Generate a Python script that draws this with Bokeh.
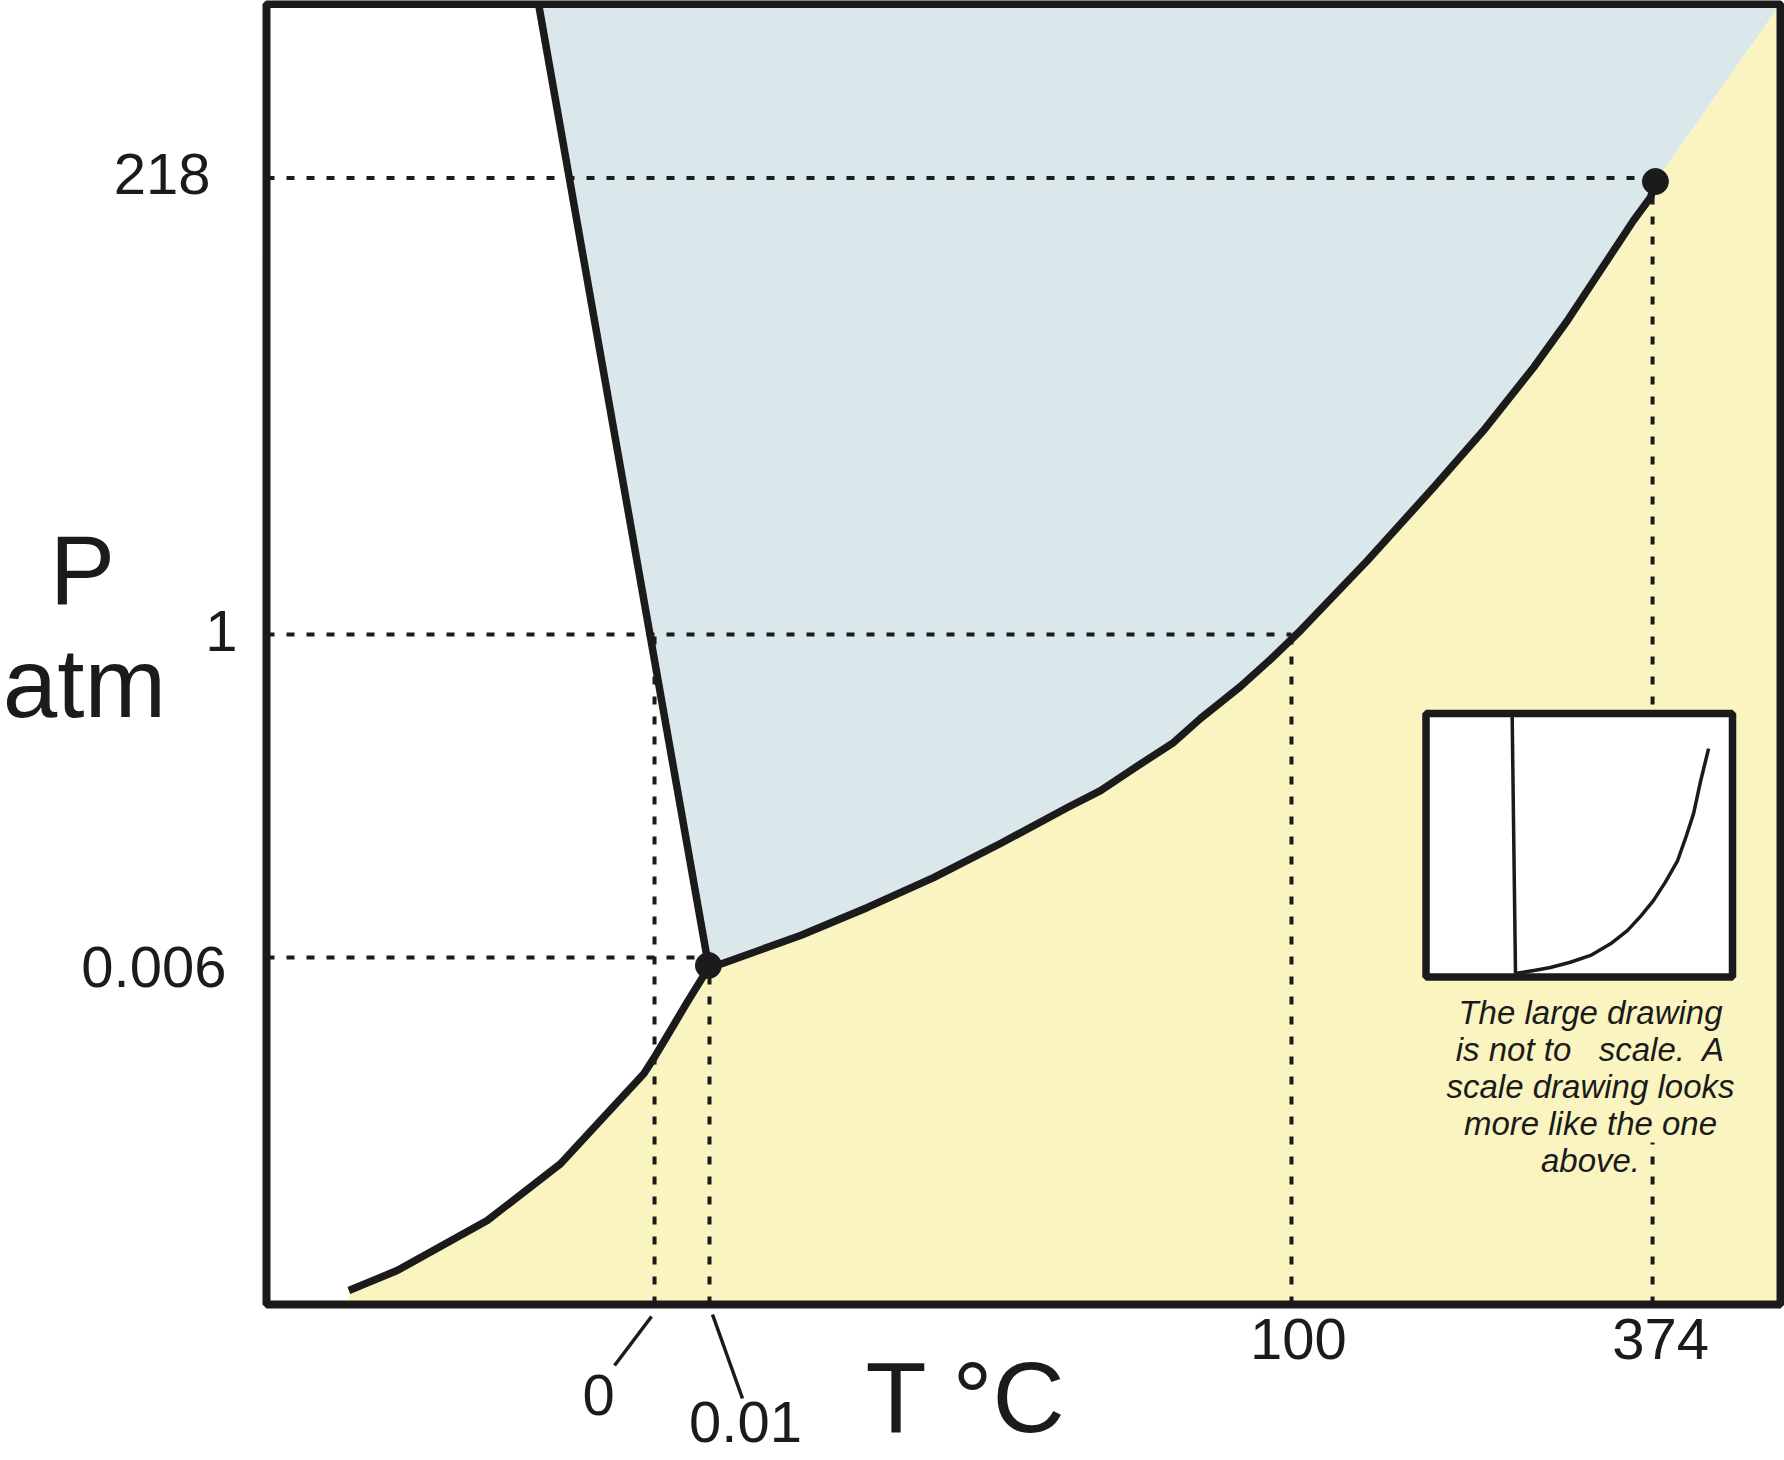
import numpy as np
from bokeh.plotting import figure
from bokeh.models import Range1d
from bokeh.core.properties import value
from bokeh.embed import file_html
from bokeh.resources import INLINE

# ------------------------------------------------------------------
# DATA  (schematic units: the framed box spans 0..100 on both axes;
#        the large drawing is "not to scale")
# ------------------------------------------------------------------
# solid-liquid (melting) line: top of frame -> triple point
melt_T = [17.97, 29.19]
melt_P = [100.0, 26.07]

# solid-vapour (sublimation) curve -> triple point
sub_T = [5.44, 8.63, 14.58, 19.42, 22.06, 24.92, 25.63, 26.68, 27.79, 28.88, 29.19]
sub_P = [1.08, 2.61, 6.46, 10.82, 14.15, 17.74, 19.02, 21.07, 23.25, 25.30, 26.07]

# liquid-vapour (boiling) curve: triple point -> critical point
vap_T = [29.19, 30.12, 35.27, 39.70, 44.06, 48.48, 52.91, 55.09, 57.27, 59.91,
         61.69, 64.33, 66.31, 68.30, 72.72, 77.08, 80.38, 83.69, 85.93, 88.11,
         90.29, 91.41, 91.74]
vap_P = [26.07, 26.22, 28.37, 30.53, 32.83, 35.45, 38.22, 39.52, 41.21, 43.21,
         45.06, 47.52, 49.60, 51.83, 57.21, 62.82, 67.20, 72.05, 75.66, 79.51,
         83.35, 85.12, 86.35]

point_names = ["triple point", "critical point"]
point_T = [29.19, 91.74]
point_P = [26.07, 86.35]

# tick positions (schematic) and labels
p_tick_pos = [86.62, 51.52, 26.68]
p_tick_labels = ["218", "1", "0.006"]
t_tick_pos = [25.63, 29.26, 67.70, 91.55]
t_tick_labels = ["0", "0.01", "100", "374"]

# inset: the drawing to scale (inset units 0..100)
inset_melt_x = [28.1, 29.2]
inset_melt_y = [100.0, 1.3]
inset_vap_x = [29.2, 35.2, 40.6, 47.1, 53.7, 60.2, 65.7, 70.0, 74.2, 78.1,
               82.1, 84.6, 87.3, 89.5, 92.2]
inset_vap_y = [1.3, 2.5, 3.6, 5.6, 8.2, 12.6, 17.6, 23.0, 29.0, 36.0,
               44.2, 52.4, 62.0, 73.9, 86.7]

note_lines = ["The large drawing", "is not to\u00a0\u00a0 scale.\u00a0 A",
              "scale drawing looks", "more like the one", "above."]

x_title = "T °C"
y_title = ["P", "atm"]

# ------------------------------------------------------------------
# LAYOUT (reference-pixel measurements -> schematic units)
# ------------------------------------------------------------------
W, H = 1784, 1458
S = 1.0
BL, BR, BT, BB = 266.0, 1780.0, 3.5, 1304.0
UX = (BR - BL) / 100.0
UY = (BB - BT) / 100.0
SHIFT = 0.40   # renderer places the alphabetic anchor ~0.4em above the glyph baseline


def rx(px):
    return (px - BL) / UX


def ry(py):
    return (BB - py) / UY


def fs(px):
    return value(f"{px * S:.1f}px")


INK = "#1b1b1b"
BLUE = "#dae8ec"
YELLOW = "#faf5c0"
FONT = value("Liberation Sans")

p = figure(width=W, height=H,
           x_range=Range1d(rx(0), rx(W / S)), y_range=Range1d(ry(H / S), ry(0)),
           output_backend="svg", toolbar_location=None, min_border=0,
           x_axis_location=None, y_axis_location=None,
           background_fill_color="white", border_fill_color="white",
           outline_line_color=None)
p.xgrid.visible = False
p.ygrid.visible = False

# phase region fills
liq_x = melt_T + vap_T[1:] + [100.0]
liq_y = melt_P + vap_P[1:] + [100.0]
gas_x = sub_T + vap_T[1:] + [100.0, 100.0, sub_T[0]]
gas_y = sub_P + vap_P[1:] + [100.0, 0.0, 0.0]
p.patch(liq_x, liq_y, fill_color=BLUE, line_color=None)
p.patch(gas_x, gas_y, fill_color=YELLOW, line_color=None)

# dotted guide lines
hx1 = [t_tick_pos[3], t_tick_pos[2], t_tick_pos[1]]
p.segment(x0=[0.0] * 3, y0=p_tick_pos, x1=hx1, y1=p_tick_pos,
          line_color=INK, line_width=4 * S, line_dash="8 12")
vy1 = [p_tick_pos[1], p_tick_pos[2], p_tick_pos[1], p_tick_pos[0]]
p.segment(x0=t_tick_pos, y0=[0.0] * 4, x1=t_tick_pos, y1=vy1,
          line_color=INK, line_width=4 * S, line_dash="8 12")

# inset box + note
IL, IR, IT, IB = rx(1425.5), rx(1732.0), ry(713.0), ry(976.5)
p.quad(left=IL, right=IR, top=IB, bottom=ry(1142), fill_color=YELLOW, line_color=None)
p.quad(left=IL, right=IR, top=IT, bottom=IB, fill_color="white",
       line_color=INK, line_width=7.5 * S)


def ix(v):
    return IL + np.asarray(v) / 100.0 * (IR - IL)


def iy(v):
    return IB + np.asarray(v) / 100.0 * (IT - IB)


p.line(ix(inset_melt_x), iy(inset_melt_y), line_color=INK, line_width=3.5 * S)
p.line(ix(inset_vap_x), iy(inset_vap_y), line_color=INK, line_width=3.5 * S,
       line_join="round")


def base(py, font):
    return ry(py - SHIFT * font)


NOTE_FS = 33
p.text(x=[rx(1590)] * len(note_lines),
       y=[base(1025 + 37 * i, NOTE_FS) for i in range(len(note_lines))],
       text=note_lines, text_align="center", text_baseline="alphabetic",
       text_font=FONT, text_font_style="italic", text_font_size=fs(NOTE_FS),
       text_color=INK)

# phase boundaries
for xs, ys in ((sub_T, sub_P), (vap_T, vap_P), (melt_T, melt_P)):
    p.line(xs, ys, line_color=INK, line_width=7.5 * S, line_join="round")
p.scatter(point_T, point_P, size=26 * S, fill_color=INK, line_color=INK)

# frame
p.quad(left=0, right=100, bottom=0, top=100, fill_color=None,
       line_color=INK, line_width=8 * S)

TICK_FS = 58
# pressure tick labels
p_right_px = [210, 237, 226]
p_base_px = [19.5, 20, 33]
p.text(x=[rx(v) for v in p_right_px],
       y=[p_tick_pos[i] - (p_base_px[i] - SHIFT * TICK_FS) / UY for i in range(3)],
       text=p_tick_labels, text_align="right", text_baseline="alphabetic",
       text_font=FONT, text_font_size=fs(TICK_FS), text_color=INK)

# temperature tick labels
t_dx_px = [-56, 36, 7, 8]
t_base_px = [114, 141, 58, 58]
p.text(x=[t_tick_pos[i] + t_dx_px[i] / UX for i in range(4)],
       y=[-(t_base_px[i] - SHIFT * TICK_FS) / UY for i in range(4)],
       text=t_tick_labels, text_align="center", text_baseline="alphabetic",
       text_font=FONT, text_font_size=fs(TICK_FS), text_color=INK)

# leader lines for the crowded 0 / 0.01 labels
p.segment(x0=[t_tick_pos[0] - 3 / UX, t_tick_pos[1] + 3 / UX],
          y0=[-12 / UY, -10 / UY],
          x1=[t_tick_pos[0] - 40 / UX, t_tick_pos[1] + 33 / UX],
          y1=[-61 / UY, -94 / UY],
          line_color=INK, line_width=3.5 * S)

# axis titles
XT_FS, YT_FS = 100, 98
p.text(x=[rx(865)], y=[base(1436, XT_FS)], text=[x_title], text_align="left",
       text_baseline="alphabetic", text_font=FONT, text_font_size=fs(XT_FS),
       text_color=INK)
p.text(x=[rx(82), rx(84)], y=[base(609, YT_FS), base(722, YT_FS)], text=y_title,
       text_align="center", text_baseline="alphabetic", text_font=FONT,
       text_font_size=fs(YT_FS), text_color=INK)

open("out.html", "w").write(file_html(p, INLINE))
